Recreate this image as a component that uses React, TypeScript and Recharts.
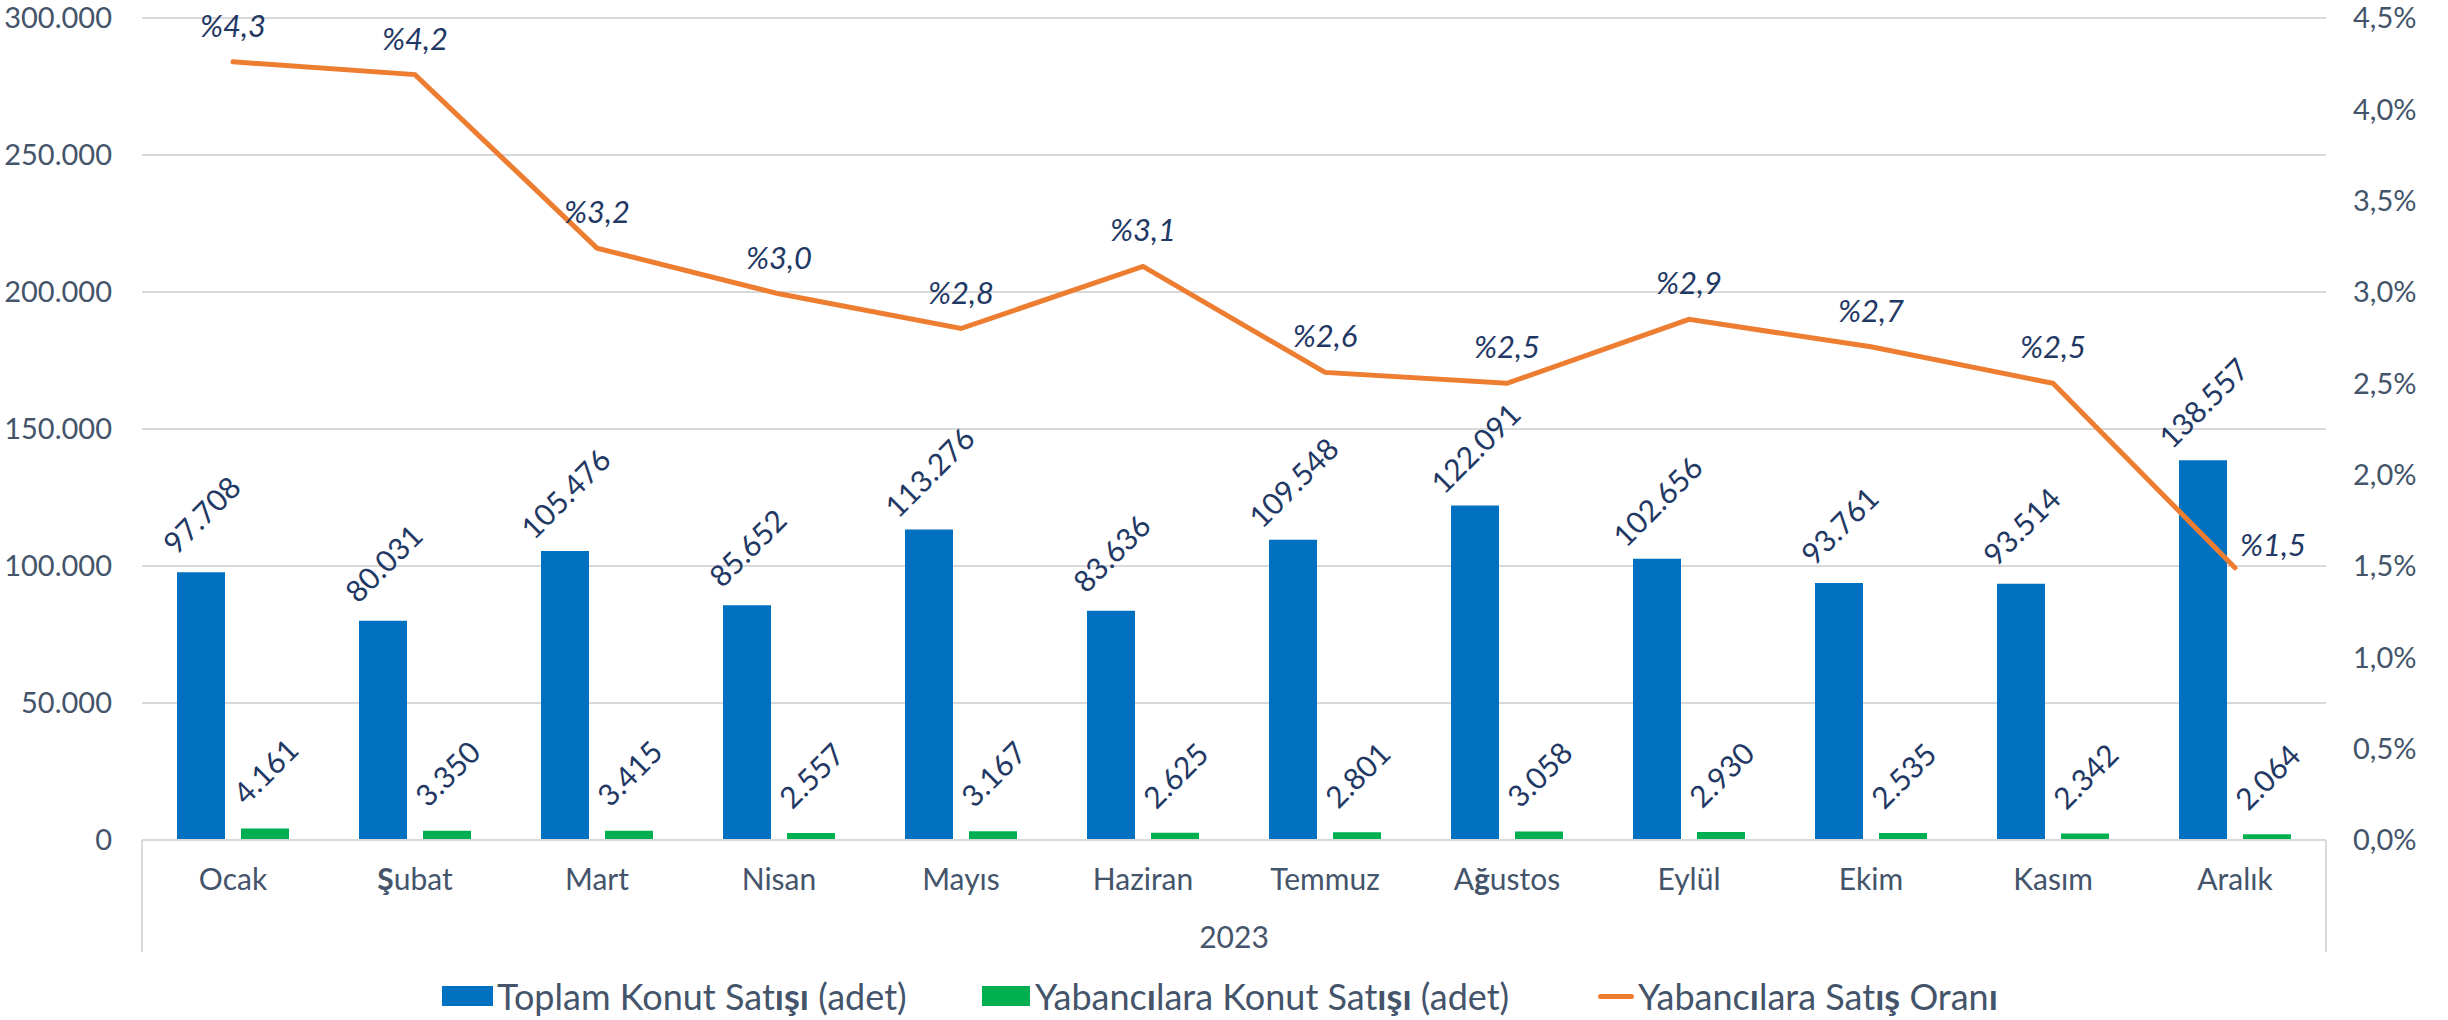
import React from 'react'
import { ComposedChart, Bar, Line, XAxis, YAxis, CartesianGrid, LabelList, Legend } from 'recharts'

const months = ['Ocak', 'Şubat', 'Mart', 'Nisan', 'Mayıs', 'Haziran', 'Temmuz', 'Ağustos', 'Eylül', 'Ekim', 'Kasım', 'Aralık']
const totalSales = [97708, 80031, 105476, 85652, 113276, 83636, 109548, 122091, 102656, 93761, 93514, 138557]
const foreignSales = [4161, 3350, 3415, 2557, 3167, 2625, 2801, 3058, 2930, 2535, 2342, 2064]
const foreignShare = [4.26, 4.19, 3.24, 2.99, 2.8, 3.14, 2.56, 2.5, 2.85, 2.7, 2.5, 1.49]
const leftTicks = [0, 50000, 100000, 150000, 200000, 250000, 300000]
const rightTicks = [0, 0.5, 1, 1.5, 2, 2.5, 3, 3.5, 4, 4.5]
const yearLabel = '2023'

const seriesNames = {
  total: 'Toplam Konut Satışı (adet)',
  foreign: 'Yabancılara Konut Satışı (adet)',
  share: 'Yabancılara Satış Oranı',
}

const BLUE = '#0070C0'
const GREEN = '#00B050'
const ORANGE = '#ED7D31'
const AXIS_TEXT = '#44546A'
const LABEL_TEXT = '#1F3864'
const GRID = '#D9D9D9'

const data = months.map((m, i) => ({
  month: m,
  total: totalSales[i],
  foreign: foreignSales[i],
  share: foreignShare[i],
}))

const thousands = (v: number) => String(Math.round(v)).replace(/\B(?=(\d{3})+(?!\d))/g, '.')
const pct = (v: number) => v.toFixed(1).replace('.', ',') + '%'

// the original font falls back to bold for some Turkish letters
function boldParts(text: string, chars: string) {
  return text.split('').map((c, i) =>
    chars.includes(c) ? <tspan key={i} fontWeight="bold">{c}</tspan> : <tspan key={i}>{c}</tspan>
  )
}
function boldSpans(text: string, chars: string) {
  return text.split('').map((c, i) =>
    chars.includes(c) ? <b key={i}>{c}</b> : <span key={i}>{c}</span>
  )
}

function MonthTick(props: any) {
  const { x, y, payload, index, visibleTicksCount, width } = props
  const half = payload?.offset ? payload.offset : width / (visibleTicksCount * 2)
  return (
    <g>
      <text x={x} y={y + 38} textAnchor="middle" dominantBaseline="central" fontSize={30} fill={AXIS_TEXT}>
        {boldParts(String(payload.value), 'Şğ')}
      </text>
      {index === 0 && <line x1={x - half} x2={x - half} y1={y} y2={y + 112} stroke={GRID} strokeWidth={2} />}
      {index === visibleTicksCount - 1 && (
        <line x1={x + half} x2={x + half} y1={y} y2={y + 112} stroke={GRID} strokeWidth={2} />
      )}
    </g>
  )
}

function BarValueLabel(props: any) {
  const { x, y, width, value } = props
  const cx = Number(x) + Number(width) / 2
  const cy = Number(y) - 58
  return (
    <text
      x={cx}
      y={cy}
      transform={`rotate(-45 ${cx} ${cy})`}
      textAnchor="middle"
      dominantBaseline="central"
      fontSize={30}
      fill={LABEL_TEXT}
    >
      {thousands(Number(value))}
    </text>
  )
}

function ShareLabel(props: any) {
  const { x, y, value, index } = props
  const last = index === foreignShare.length - 1
  const tx = Number(x) + (last ? 38 : 0)
  const ty = Number(y) - (last ? 24 : 37)
  return (
    <text x={tx} y={ty} textAnchor="middle" dominantBaseline="central" fontSize={31} fontStyle="italic" fill={LABEL_TEXT}>
      {'%' + Number(value).toFixed(1).replace('.', ',')}
    </text>
  )
}

function LegendBox() {
  const item: React.CSSProperties = {
    position: 'absolute',
    top: 26,
    height: 36,
    display: 'flex',
    alignItems: 'center',
    fontSize: 36,
    color: AXIS_TEXT,
    whiteSpace: 'nowrap',
  }
  return (
    <div style={{ position: 'relative', width: 2448, height: 68 }}>
      <div style={{ ...item, left: 442 }}>
        <span style={{ width: 51, height: 20, background: BLUE, marginRight: 4 }} />
        <span>{boldSpans(seriesNames.total, 'ış')}</span>
      </div>
      <div style={{ ...item, left: 982 }}>
        <span style={{ width: 48, height: 20, background: GREEN, marginRight: 5 }} />
        <span>{boldSpans(seriesNames.foreign, 'ış')}</span>
      </div>
      <div style={{ ...item, left: 1598 }}>
        <span style={{ width: 36, height: 5, borderRadius: 3, background: ORANGE, marginRight: 4 }} />
        <span>{boldSpans(seriesNames.share, 'ış')}</span>
      </div>
    </div>
  )
}

export default function App() {
  return (
    <div style={{ position: 'absolute', left: 0, top: 0, width: 2448, height: 1020, background: '#fff', fontFamily: 'Lato, sans-serif' }}>
      <ComposedChart
        width={2448}
        height={1020}
        data={data}
        margin={{ top: 18, right: 0, left: 0, bottom: 0 }}
        barSize={48}
        barGap={16}
      >
        <CartesianGrid yAxisId="left" vertical={false} stroke={GRID} strokeWidth={2} />
        <XAxis
          dataKey="month"
          height={112}
          axisLine={{ stroke: GRID, strokeWidth: 2 }}
          tickLine={false}
          tickSize={0}
          tickMargin={0}
          interval={0}
          tick={<MonthTick />}
          label={{ value: yearLabel, position: 'insideBottom', offset: 4, fill: AXIS_TEXT, fontSize: 30 }}
        />
        <YAxis
          yAxisId="left"
          width={142}
          domain={[0, 300000]}
          ticks={leftTicks}
          axisLine={false}
          tickLine={false}
          tickSize={0}
          tickMargin={30}
          tick={{ fill: AXIS_TEXT, fontSize: 29 }}
          tickFormatter={thousands}
        />
        <YAxis
          yAxisId="right"
          orientation="right"
          width={122}
          domain={[0, 4.5]}
          ticks={rightTicks}
          axisLine={false}
          tickLine={false}
          tickSize={0}
          tickMargin={27}
          tick={{ fill: AXIS_TEXT, fontSize: 29 }}
          tickFormatter={pct}
        />
        <Legend verticalAlign="bottom" wrapperStyle={{ left: 0, width: 2448, height: 68 }} content={() => <LegendBox />} />
        <Bar yAxisId="left" dataKey="total" name={seriesNames.total} fill={BLUE} isAnimationActive={false}>
          <LabelList dataKey="total" content={<BarValueLabel />} />
        </Bar>
        <Bar yAxisId="left" dataKey="foreign" name={seriesNames.foreign} fill={GREEN} isAnimationActive={false}>
          <LabelList dataKey="foreign" content={<BarValueLabel />} />
        </Bar>
        <Line
          yAxisId="right"
          type="linear"
          dataKey="share"
          name={seriesNames.share}
          stroke={ORANGE}
          strokeWidth={5}
          strokeLinecap="round"
          dot={false}
          activeDot={false}
          isAnimationActive={false}
        >
          <LabelList dataKey="share" content={<ShareLabel />} />
        </Line>
      </ComposedChart>
    </div>
  )
}
